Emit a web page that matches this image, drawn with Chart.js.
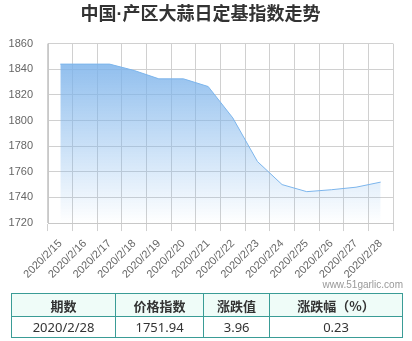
<!DOCTYPE html>
<html>
<head>
<meta charset="utf-8">
<script src="https://cdn.jsdelivr.net/npm/chart.js@4/dist/chart.umd.min.js"></script>
<style>
	body { margin: 0; background: #fff; font-family: "Liberation Sans", "Noto Sans CJK SC", sans-serif; }
	#wrap { position: relative; width: 412px; height: 287px; }
	.site { position: absolute; left: 0; top: 279px; width: 403px; text-align: right; font-size: 10px; color: #999; }
	table { position: absolute; left: 11px; top: 293px; width: 392px; border-collapse: collapse; font-size: 13px; color: #333; }
	td, th { border: 1px solid #3a9c96; text-align: center; padding: 0; }
	th { background: #effcf8; height: 22px; font-weight: bold; font-family: "Noto Sans CJK SC", sans-serif; }
	td { height: 20px; font-family: "Noto Sans", "Noto Sans CJK SC", sans-serif; }
</style>
</head>
<body>
<div id="wrap"><canvas id="areaChart"></canvas></div>
<div class="site">www.51garlic.com</div>
<table id="tbl"></table>
<script>
var labels = ["2020/2/15", "2020/2/16", "2020/2/17", "2020/2/18", "2020/2/19", "2020/2/20", "2020/2/21",
	"2020/2/22", "2020/2/23", "2020/2/24", "2020/2/25", "2020/2/26", "2020/2/27", "2020/2/28"];
var values = [1844, 1844, 1844, 1839, 1832.5, 1832.5, 1826.5, 1802, 1768, 1750, 1744.5, 1746, 1747.98, 1751.94];
var tableHead = ["期数", "价格指数", "涨跌值", "涨跌幅（%）"];
var tableRow = ["2020/2/28", "1751.94", "3.96", "0.23"];
var colWidths = [104, 88, 66, 134];

// table under the chart
var tbl = document.getElementById("tbl");
var h = "<tr>";
tableHead.forEach(function(t, i) { h += '<th style="width:' + colWidths[i] + 'px">' + t + "</th>"; });
h += "</tr><tr>";
tableRow.forEach(function(t) { h += "<td>" + t + "</td>"; });
tbl.innerHTML = h + "</tr>";

var areaData = {
	labels: labels,
	datasets: [{
		label: '指数',
		data: values,
		borderColor: '#7cb5ec',
		borderWidth: 1,
		pointRadius: 0,
		tension: 0,
		fill: 'start',
		backgroundColor: function(ctx) {
			var area = ctx.chart.chartArea;
			if (!area) return 'rgba(124,181,236,0.5)';
			var g = ctx.chart.ctx.createLinearGradient(0, area.top, 0, area.bottom);
			g.addColorStop(0, 'rgba(124,178,234,0.95)');
			g.addColorStop(1, 'rgba(124,181,236,0)');
			return g;
		}
	}]
};

var areaChart = new Chart(document.getElementById("areaChart"), {
	type: 'line',
	data: areaData,
	options: {
		responsive: true,
		maintainAspectRatio: false,
		animation: false,
		layout: { padding: { left: 8, right: 19, top: 4, bottom: 0 } },
		plugins: {
			legend: { display: false },
			tooltip: { enabled: false },
			title: {
				display: true,
				text: '中国·产区大蒜日定基指数走势',
				color: '#333',
				font: { size: 18, weight: 'bold', family: '"Liberation Sans", "Noto Sans CJK SC", sans-serif' },
				padding: { top: 0, bottom: 18 }
			}
		},
		scales: {
			x: {
				offset: true,
				grid: { offset: true, color: '#d0d0d0', tickLength: 8 },
				border: { color: '#c8c8c8' },
				ticks: {
					color: '#666',
					minRotation: 45,
					maxRotation: 45,
					autoSkip: false,
					padding: 6,
					font: { size: 11, family: '"Liberation Sans", sans-serif' }
				}
			},
			y: {
				min: 1720,
				max: 1860,
				afterFit: function(scale) { scale.width = 40; },
				grid: { color: '#d0d0d0', drawTicks: false },
				border: { color: '#c8c8c8' },
				ticks: {
					stepSize: 20,
					color: '#666',
					padding: 15,
					font: { size: 11, family: '"Liberation Sans", sans-serif' },
					callback: function(v) { return String(v); }
				}
			}
		}
	}
});
</script>
</body>
</html>
